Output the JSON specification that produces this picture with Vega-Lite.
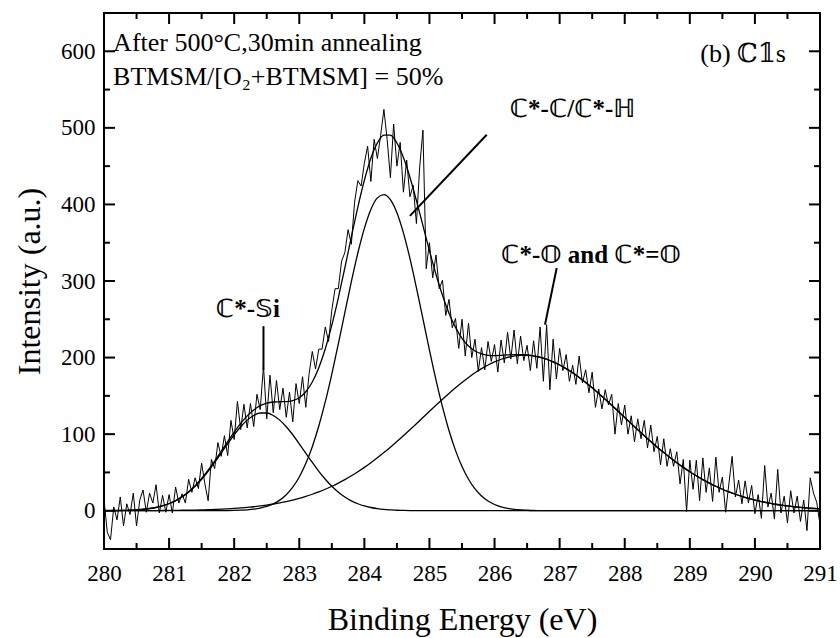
{
  "$schema": "https://vega.github.io/schema/vega-lite/v6.json",
  "width": 716,
  "height": 536,
  "autosize": {"type": "none"},
  "padding": {"left": 104, "top": 13, "right": 20, "bottom": 89},
  "config": {
    "view": {"stroke": "black", "strokeWidth": 2},
    "font": "Liberation Serif",
    "axis": {
      "grid": false,
      "domain": false,
      "ticks": false,
      "labelFont": "Liberation Serif",
      "labelFontSize": 23,
      "labelColor": "black",
      "labelFlush": false,
      "labelOverlap": false,
      "titleFont": "Liberation Serif",
      "titleFontSize": 32,
      "titleFontWeight": "normal",
      "titleColor": "black"
    }
  },
  "datasets": {
    "spectrum": [
      {"e":280.00,"c":15},{"e":280.05,"c":-28},{"e":280.10,"c":-38},{"e":280.15,"c":5},{"e":280.20,"c":-12},
      {"e":280.25,"c":18},{"e":280.30,"c":-20},{"e":280.35,"c":9},{"e":280.40,"c":-5},{"e":280.45,"c":23},
      {"e":280.50,"c":-20},{"e":280.55,"c":14},{"e":280.60,"c":27},{"e":280.65,"c":-2},{"e":280.70,"c":23},
      {"e":280.75,"c":10},{"e":280.80,"c":34},{"e":280.85,"c":-3},{"e":280.90,"c":20},{"e":280.95,"c":-2},
      {"e":281.00,"c":21},{"e":281.05,"c":-3},{"e":281.10,"c":31},{"e":281.15,"c":10},{"e":281.20,"c":22},
      {"e":281.25,"c":10},{"e":281.30,"c":41},{"e":281.35,"c":24},{"e":281.40,"c":43},{"e":281.45,"c":29},
      {"e":281.50,"c":62},{"e":281.55,"c":35},{"e":281.60,"c":13},{"e":281.65,"c":67},{"e":281.70,"c":55},
      {"e":281.75,"c":89},{"e":281.80,"c":71},{"e":281.85,"c":98},{"e":281.90,"c":72},{"e":281.95,"c":118},
      {"e":282.00,"c":93},{"e":282.05,"c":143},{"e":282.10,"c":106},{"e":282.15,"c":139},{"e":282.20,"c":108},
      {"e":282.25,"c":140},{"e":282.30,"c":110},{"e":282.35,"c":152},{"e":282.40,"c":132},{"e":282.45,"c":189},
      {"e":282.50,"c":120},{"e":282.55,"c":177},{"e":282.60,"c":128},{"e":282.65,"c":170},{"e":282.70,"c":132},
      {"e":282.75,"c":160},{"e":282.80,"c":122},{"e":282.85,"c":155},{"e":282.90,"c":116},{"e":282.95,"c":166},
      {"e":283.00,"c":140},{"e":283.05,"c":175},{"e":283.10,"c":135},{"e":283.15,"c":178},{"e":283.20,"c":208},
      {"e":283.25,"c":185},{"e":283.30,"c":211},{"e":283.35,"c":211},{"e":283.40,"c":240},{"e":283.45,"c":221},
      {"e":283.50,"c":262},{"e":283.55,"c":290},{"e":283.60,"c":290},{"e":283.65,"c":326},{"e":283.70,"c":337},
      {"e":283.75,"c":367},{"e":283.80,"c":348},{"e":283.85,"c":403},{"e":283.90,"c":431},{"e":283.95,"c":424},
      {"e":284.00,"c":454},{"e":284.05,"c":476},{"e":284.10,"c":430},{"e":284.15,"c":485},{"e":284.20,"c":460},
      {"e":284.25,"c":490},{"e":284.30,"c":524},{"e":284.35,"c":485},{"e":284.40,"c":435},{"e":284.45,"c":505},
      {"e":284.50,"c":450},{"e":284.55,"c":481},{"e":284.60,"c":416},{"e":284.65,"c":458},{"e":284.70,"c":410},
      {"e":284.75,"c":425},{"e":284.80,"c":375},{"e":284.85,"c":449},{"e":284.90,"c":497},{"e":284.95,"c":316},
      {"e":285.00,"c":350},{"e":285.05,"c":304},{"e":285.10,"c":334},{"e":285.15,"c":290},{"e":285.20,"c":301},
      {"e":285.25,"c":255},{"e":285.30,"c":276},{"e":285.35,"c":239},{"e":285.40,"c":251},{"e":285.45,"c":212},
      {"e":285.50,"c":250},{"e":285.55,"c":202},{"e":285.60,"c":245},{"e":285.65,"c":200},{"e":285.70,"c":224},
      {"e":285.75,"c":182},{"e":285.80,"c":213},{"e":285.85,"c":184},{"e":285.90,"c":221},{"e":285.95,"c":195},
      {"e":286.00,"c":217},{"e":286.05,"c":181},{"e":286.10,"c":223},{"e":286.15,"c":193},{"e":286.20,"c":233},
      {"e":286.25,"c":198},{"e":286.30,"c":236},{"e":286.35,"c":192},{"e":286.40,"c":228},{"e":286.45,"c":196},
      {"e":286.50,"c":216},{"e":286.55,"c":183},{"e":286.60,"c":222},{"e":286.65,"c":186},{"e":286.70,"c":240},
      {"e":286.75,"c":169},{"e":286.80,"c":243},{"e":286.85,"c":158},{"e":286.90,"c":224},{"e":286.95,"c":172},
      {"e":287.00,"c":212},{"e":287.05,"c":183},{"e":287.10,"c":204},{"e":287.15,"c":169},{"e":287.20,"c":190},
      {"e":287.25,"c":165},{"e":287.30,"c":202},{"e":287.35,"c":167},{"e":287.40,"c":184},{"e":287.45,"c":154},
      {"e":287.50,"c":181},{"e":287.55,"c":135},{"e":287.60,"c":159},{"e":287.65,"c":133},{"e":287.70,"c":158},
      {"e":287.75,"c":138},{"e":287.80,"c":152},{"e":287.85,"c":100},{"e":287.90,"c":140},{"e":287.95,"c":112},
      {"e":288.00,"c":138},{"e":288.05,"c":100},{"e":288.10,"c":124},{"e":288.15,"c":90},{"e":288.20,"c":120},
      {"e":288.25,"c":94},{"e":288.30,"c":118},{"e":288.35,"c":82},{"e":288.40,"c":112},{"e":288.45,"c":77},
      {"e":288.50,"c":97},{"e":288.55,"c":60},{"e":288.60,"c":94},{"e":288.65,"c":58},{"e":288.70,"c":81},
      {"e":288.75,"c":58},{"e":288.80,"c":77},{"e":288.85,"c":35},{"e":288.90,"c":67},{"e":288.95,"c":-1},
      {"e":289.00,"c":66},{"e":289.05,"c":28},{"e":289.10,"c":66},{"e":289.15,"c":13},{"e":289.20,"c":69},
      {"e":289.25,"c":24},{"e":289.30,"c":56},{"e":289.35,"c":12},{"e":289.40,"c":70},{"e":289.45,"c":24},
      {"e":289.50,"c":44},{"e":289.55,"c":-2},{"e":289.60,"c":35},{"e":289.65,"c":71},{"e":289.70,"c":18},
      {"e":289.75,"c":40},{"e":289.80,"c":9},{"e":289.85,"c":39},{"e":289.90,"c":10},{"e":289.95,"c":33},
      {"e":290.00,"c":-4},{"e":290.05,"c":21},{"e":290.10,"c":-10},{"e":290.15,"c":59},{"e":290.20,"c":5},
      {"e":290.25,"c":23},{"e":290.30,"c":-11},{"e":290.35,"c":54},{"e":290.40,"c":-3},{"e":290.45,"c":19},
      {"e":290.50,"c":-16},{"e":290.55,"c":26},{"e":290.60,"c":-3},{"e":290.65,"c":19},{"e":290.70,"c":-14},
      {"e":290.75,"c":14},{"e":290.80,"c":-26},{"e":290.85,"c":43},{"e":290.90,"c":23},{"e":290.95,"c":11},
      {"e":291.00,"c":-18}
    ],
    "fit": [
      {"e":280.0,"si":0.1,"cc":0,"co":0.0,"env":0.1},{"e":280.1,"si":0.1,"cc":0,"co":0.0,"env":0.2},
      {"e":280.2,"si":0.2,"cc":0,"co":0.1,"env":0.3},{"e":280.3,"si":0.4,"cc":0,"co":0.1,"env":0.4},
      {"e":280.4,"si":0.6,"cc":0,"co":0.1,"env":0.7},{"e":280.5,"si":1.1,"cc":0,"co":0.1,"env":1.2},
      {"e":280.6,"si":1.7,"cc":0,"co":0.1,"env":1.9},{"e":280.7,"si":2.7,"cc":0,"co":0.2,"env":2.9},
      {"e":280.8,"si":4.2,"cc":0,"co":0.2,"env":4.4},{"e":280.9,"si":6.2,"cc":0,"co":0.3,"env":6.5},
      {"e":281.0,"si":9.1,"cc":0,"co":0.4,"env":9.4},{"e":281.1,"si":12.9,"cc":0,"co":0.5,"env":13.4},
      {"e":281.2,"si":17.9,"cc":0,"co":0.6,"env":18.5},{"e":281.3,"si":24.2,"cc":0,"co":0.7,"env":24.9},
      {"e":281.4,"si":31.9,"cc":0,"co":0.9,"env":32.8},{"e":281.5,"si":41.1,"cc":0,"co":1.1,"env":42.2},
      {"e":281.6,"si":51.5,"cc":0,"co":1.4,"env":52.9},{"e":281.7,"si":63.0,"cc":0,"co":1.7,"env":64.7},
      {"e":281.8,"si":75.2,"cc":0.1,"co":2.0,"env":77.3},{"e":281.9,"si":87.4,"cc":0.2,"co":2.5,"env":90.1},
      {"e":282.0,"si":99.2,"cc":0.4,"co":3.0,"env":102.6},{"e":282.1,"si":109.7,"cc":0.7,"co":3.6,"env":114.0},
      {"e":282.2,"si":118.3,"cc":1.2,"co":4.4,"env":123.9},{"e":282.3,"si":124.4,"cc":2.0,"co":5.2,"env":131.6},
      {"e":282.4,"si":127.6,"cc":3.4,"co":6.2,"env":137.2},{"e":282.5,"si":127.6,"cc":5.6,"co":7.3,"env":140.5},
      {"e":282.6,"si":124.4,"cc":8.9,"co":8.7,"env":142.0},{"e":282.7,"si":118.3,"cc":13.8,"co":10.2,"env":142.3},
      {"e":282.8,"si":109.7,"cc":20.9,"co":11.9,"env":142.5},{"e":282.9,"si":99.2,"cc":30.8,"co":13.9,"env":143.9},
      {"e":283.0,"si":87.4,"cc":44.1,"co":16.1,"env":147.6},{"e":283.1,"si":75.2,"cc":61.6,"co":18.6,"env":155.4},
      {"e":283.2,"si":63.0,"cc":83.6,"co":21.5,"env":168.1},{"e":283.3,"si":51.5,"cc":110.6,"co":24.6,"env":186.7},
      {"e":283.4,"si":41.1,"cc":142.4,"co":28.0,"env":211.5},{"e":283.5,"si":31.9,"cc":178.5,"co":31.9,"env":242.3},
      {"e":283.6,"si":24.2,"cc":217.8,"co":36.1,"env":278.1},{"e":283.7,"si":17.9,"cc":258.7,"co":40.6,"env":317.2},
      {"e":283.8,"si":12.9,"cc":299.1,"co":45.6,"env":357.6},{"e":283.9,"si":9.1,"cc":336.6,"co":50.9,"env":396.6},
      {"e":284.0,"si":6.2,"cc":368.8,"co":56.6,"env":431.6},{"e":284.1,"si":4.2,"cc":393.5,"co":62.7,"env":460.4},
      {"e":284.2,"si":2.7,"cc":408.5,"co":69.1,"env":480.3},{"e":284.3,"si":1.7,"cc":412.9,"co":75.9,"env":490.5},
      {"e":284.4,"si":1.1,"cc":406.3,"co":83.0,"env":490.4},{"e":284.5,"si":0.6,"cc":389.2,"co":90.4,"env":480.2},
      {"e":284.6,"si":0.4,"cc":362.9,"co":98.0,"env":461.3},{"e":284.7,"si":0.2,"cc":329.5,"co":105.8,"env":435.5},
      {"e":284.8,"si":0.1,"cc":291.1,"co":113.7,"env":404.9},{"e":284.9,"si":0.1,"cc":250.5,"co":121.8,"env":372.4},
      {"e":285.0,"si":0,"cc":209.8,"co":129.8,"env":339.6},{"e":285.1,"si":0,"cc":171.0,"co":137.8,"env":308.8},
      {"e":285.2,"si":0,"cc":135.7,"co":145.6,"env":281.3},{"e":285.3,"si":0,"cc":104.8,"co":153.2,"env":258.0},
      {"e":285.4,"si":0,"cc":78.8,"co":160.6,"env":239.4},{"e":285.5,"si":0,"cc":57.7,"co":167.5,"env":225.2},
      {"e":285.6,"si":0,"cc":41.1,"co":174.1,"env":215.2},{"e":285.7,"si":0,"cc":28.5,"co":180.1,"env":208.6},
      {"e":285.8,"si":0,"cc":19.3,"co":185.5,"env":204.8},{"e":285.9,"si":0,"cc":12.7,"co":190.3,"env":203.0},
      {"e":286.0,"si":0,"cc":8.1,"co":194.4,"env":202.5},{"e":286.1,"si":0,"cc":5.1,"co":197.8,"env":202.9},
      {"e":286.2,"si":0,"cc":3.1,"co":200.3,"env":203.4},{"e":286.3,"si":0,"cc":1.8,"co":202.0,"env":203.8},
      {"e":286.4,"si":0,"cc":1.0,"co":202.9,"env":203.9},{"e":286.5,"si":0,"cc":0.6,"co":202.9,"env":203.5},
      {"e":286.6,"si":0,"cc":0.3,"co":202.0,"env":202.3},{"e":286.7,"si":0,"cc":0.2,"co":200.3,"env":200.5},
      {"e":286.8,"si":0,"cc":0.1,"co":197.8,"env":197.9},{"e":286.9,"si":0,"cc":0,"co":194.4,"env":194.4},
      {"e":287.0,"si":0,"cc":0,"co":190.3,"env":190.3},{"e":287.1,"si":0,"cc":0,"co":185.5,"env":185.5},
      {"e":287.2,"si":0,"cc":0,"co":180.1,"env":180.1},{"e":287.3,"si":0,"cc":0,"co":174.1,"env":174.1},
      {"e":287.4,"si":0,"cc":0,"co":167.5,"env":167.5},{"e":287.5,"si":0,"cc":0,"co":160.6,"env":160.6},
      {"e":287.6,"si":0,"cc":0,"co":153.2,"env":153.2},{"e":287.7,"si":0,"cc":0,"co":145.6,"env":145.6},
      {"e":287.8,"si":0,"cc":0,"co":137.8,"env":137.8},{"e":287.9,"si":0,"cc":0,"co":129.8,"env":129.8},
      {"e":288.0,"si":0,"cc":0,"co":121.8,"env":121.8},{"e":288.1,"si":0,"cc":0,"co":113.7,"env":113.7},
      {"e":288.2,"si":0,"cc":0,"co":105.8,"env":105.8},{"e":288.3,"si":0,"cc":0,"co":98.0,"env":98.0},
      {"e":288.4,"si":0,"cc":0,"co":90.4,"env":90.4},{"e":288.5,"si":0,"cc":0,"co":83.0,"env":83.0},
      {"e":288.6,"si":0,"cc":0,"co":75.9,"env":75.9},{"e":288.7,"si":0,"cc":0,"co":69.1,"env":69.1},
      {"e":288.8,"si":0,"cc":0,"co":62.7,"env":62.7},{"e":288.9,"si":0,"cc":0,"co":56.6,"env":56.6},
      {"e":289.0,"si":0,"cc":0,"co":50.9,"env":50.9},{"e":289.1,"si":0,"cc":0,"co":45.6,"env":45.6},
      {"e":289.2,"si":0,"cc":0,"co":40.6,"env":40.6},{"e":289.3,"si":0,"cc":0,"co":36.1,"env":36.1},
      {"e":289.4,"si":0,"cc":0,"co":31.9,"env":31.9},{"e":289.5,"si":0,"cc":0,"co":28.0,"env":28.0},
      {"e":289.6,"si":0,"cc":0,"co":24.6,"env":24.6},{"e":289.7,"si":0,"cc":0,"co":21.5,"env":21.5},
      {"e":289.8,"si":0,"cc":0,"co":18.6,"env":18.6},{"e":289.9,"si":0,"cc":0,"co":16.1,"env":16.1},
      {"e":290.0,"si":0,"cc":0,"co":13.9,"env":13.9},{"e":290.1,"si":0,"cc":0,"co":11.9,"env":11.9},
      {"e":290.2,"si":0,"cc":0,"co":10.2,"env":10.2},{"e":290.3,"si":0,"cc":0,"co":8.7,"env":8.7},
      {"e":290.4,"si":0,"cc":0,"co":7.3,"env":7.3},{"e":290.5,"si":0,"cc":0,"co":6.2,"env":6.2},
      {"e":290.6,"si":0,"cc":0,"co":5.2,"env":5.2},{"e":290.7,"si":0,"cc":0,"co":4.4,"env":4.4},
      {"e":290.8,"si":0,"cc":0,"co":3.6,"env":3.6},{"e":290.9,"si":0,"cc":0,"co":3.0,"env":3.0},
      {"e":291.0,"si":0,"cc":0,"co":2.5,"env":2.5}
    ],
    "energyMajor": [{"t":281},{"t":282},{"t":283},{"t":284},{"t":285},{"t":286},{"t":287},{"t":288},{"t":289},{"t":290}],
    "energyMinor": [{"t":280.5},{"t":281.5},{"t":282.5},{"t":283.5},{"t":284.5},{"t":285.5},{"t":286.5},{"t":287.5},{"t":288.5},{"t":289.5},{"t":290.5}],
    "intensityMajor": [{"t":0},{"t":100},{"t":200},{"t":300},{"t":400},{"t":500},{"t":600}],
    "intensityMinor": [{"t":50},{"t":150},{"t":250},{"t":350},{"t":450},{"t":550}],
    "leaders": [
      {"e":282.45,"v":184,"e2":282.45,"v2":241},
      {"e":284.70,"v":385,"e2":285.88,"v2":491},
      {"e":286.775,"v":243,"e2":286.955,"v2":317}
    ],
    "peakLabels": [
      {"label":"ℂ*-𝕊i","e":282.21,"v":264},
      {"label":"ℂ*-ℂ/ℂ*-ℍ","e":287.2,"v":525},
      {"label":"ℂ*-𝕆 and ℂ*=𝕆","e":287.48,"v":334}
    ],
    "notes": [
      {"label":"After 500°C,30min annealing","e":280.14,"v":611},
      {"label":"BTMSM/[O₂+BTMSM] = 50%","e":280.14,"v":566},
      {"label":"(b) ℂ𝟙s","e":289.16,"v":596}
    ]
  },
  "layer": [
    {
      "data": {"name": "spectrum"},
      "mark": {"type": "line", "color": "black", "strokeWidth": 1},
      "encoding": {
        "x": {"field": "e", "type": "quantitative",
              "scale": {"domain": [280, 291], "nice": false, "zero": false},
              "axis": {"title": "Binding Energy (eV)", "tickCount": 11, "format": "d",
                       "labelPadding": 13, "titlePadding": 19}},
        "y": {"field": "c", "type": "quantitative",
              "scale": {"domain": [-50, 650], "nice": false, "zero": false},
              "axis": {"title": "Intensity (a.u.)", "tickCount": 7, "format": "d",
                       "labelPadding": 9, "titlePadding": 14}}
      }
    },
    {
      "data": {"name": "fit"},
      "mark": {"type": "line", "color": "black", "strokeWidth": 1.3, "interpolate": "monotone"},
      "encoding": {
        "x": {"field": "e", "type": "quantitative"},
        "y": {"field": "env", "type": "quantitative"}
      }
    },
    {
      "data": {"name": "fit"},
      "mark": {"type": "line", "color": "black", "strokeWidth": 1.3, "interpolate": "monotone"},
      "encoding": {
        "x": {"field": "e", "type": "quantitative"},
        "y": {"field": "si", "type": "quantitative"}
      }
    },
    {
      "data": {"name": "fit"},
      "mark": {"type": "line", "color": "black", "strokeWidth": 1.3, "interpolate": "monotone"},
      "encoding": {
        "x": {"field": "e", "type": "quantitative"},
        "y": {"field": "cc", "type": "quantitative"}
      }
    },
    {
      "data": {"name": "fit"},
      "mark": {"type": "line", "color": "black", "strokeWidth": 1.3, "interpolate": "monotone"},
      "encoding": {
        "x": {"field": "e", "type": "quantitative"},
        "y": {"field": "co", "type": "quantitative"}
      }
    },
    {
      "data": {"name": "energyMajor"},
      "mark": {"type": "rule", "color": "black", "strokeWidth": 2},
      "encoding": {
        "x": {"field": "t", "type": "quantitative"},
        "y": {"datum": -50, "type": "quantitative"},
        "y2": {"datum": -35.6}
      }
    },
    {
      "data": {"name": "energyMajor"},
      "mark": {"type": "rule", "color": "black", "strokeWidth": 2},
      "encoding": {
        "x": {"field": "t", "type": "quantitative"},
        "y": {"datum": 650, "type": "quantitative"},
        "y2": {"datum": 635.6}
      }
    },
    {
      "data": {"name": "energyMinor"},
      "mark": {"type": "rule", "color": "black", "strokeWidth": 2},
      "encoding": {
        "x": {"field": "t", "type": "quantitative"},
        "y": {"datum": -50, "type": "quantitative"},
        "y2": {"datum": -42.2}
      }
    },
    {
      "data": {"name": "energyMinor"},
      "mark": {"type": "rule", "color": "black", "strokeWidth": 2},
      "encoding": {
        "x": {"field": "t", "type": "quantitative"},
        "y": {"datum": 650, "type": "quantitative"},
        "y2": {"datum": 642.2}
      }
    },
    {
      "data": {"name": "intensityMajor"},
      "mark": {"type": "rule", "color": "black", "strokeWidth": 2},
      "encoding": {
        "y": {"field": "t", "type": "quantitative"},
        "x": {"datum": 280, "type": "quantitative"},
        "x2": {"datum": 280.169}
      }
    },
    {
      "data": {"name": "intensityMajor"},
      "mark": {"type": "rule", "color": "black", "strokeWidth": 2},
      "encoding": {
        "y": {"field": "t", "type": "quantitative"},
        "x": {"datum": 291, "type": "quantitative"},
        "x2": {"datum": 290.831}
      }
    },
    {
      "data": {"name": "intensityMinor"},
      "mark": {"type": "rule", "color": "black", "strokeWidth": 2},
      "encoding": {
        "y": {"field": "t", "type": "quantitative"},
        "x": {"datum": 280, "type": "quantitative"},
        "x2": {"datum": 280.092}
      }
    },
    {
      "data": {"name": "intensityMinor"},
      "mark": {"type": "rule", "color": "black", "strokeWidth": 2},
      "encoding": {
        "y": {"field": "t", "type": "quantitative"},
        "x": {"datum": 291, "type": "quantitative"},
        "x2": {"datum": 290.908}
      }
    },
    {
      "data": {"name": "leaders"},
      "mark": {"type": "rule", "color": "black", "strokeWidth": 2},
      "encoding": {
        "x": {"field": "e", "type": "quantitative"},
        "y": {"field": "v", "type": "quantitative"},
        "x2": {"field": "e2"},
        "y2": {"field": "v2"}
      }
    },
    {
      "data": {"name": "peakLabels"},
      "mark": {"type": "text", "font": "Liberation Serif, DejaVu Serif, DejaVu Sans", "fontSize": 25, "fontWeight": "bold",
               "align": "center", "baseline": "middle", "color": "black"},
      "encoding": {
        "x": {"field": "e", "type": "quantitative"},
        "y": {"field": "v", "type": "quantitative"},
        "text": {"field": "label"}
      }
    },
    {
      "data": {"name": "notes"},
      "mark": {"type": "text", "font": "Liberation Serif, DejaVu Serif, DejaVu Sans", "fontSize": 26,
               "align": "left", "baseline": "middle", "color": "black"},
      "encoding": {
        "x": {"field": "e", "type": "quantitative"},
        "y": {"field": "v", "type": "quantitative"},
        "text": {"field": "label"}
      }
    }
  ]
}
